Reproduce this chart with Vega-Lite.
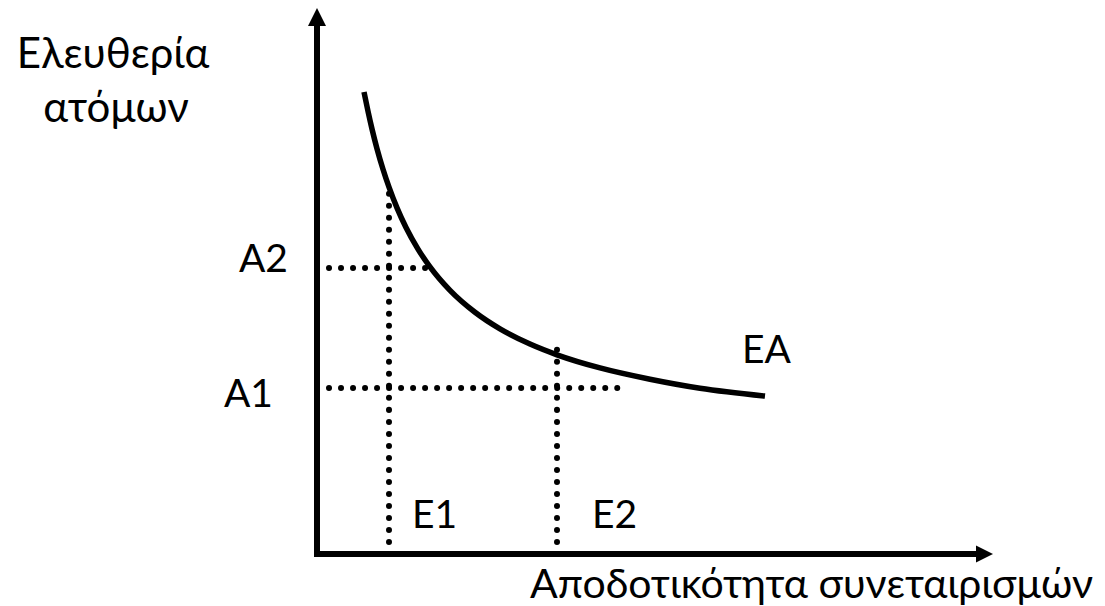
{
  "$schema": "https://vega.github.io/schema/vega-lite/v6.json",
  "width": 1105,
  "height": 606,
  "padding": 0,
  "autosize": {"type": "none"},
  "background": "white",
  "config": {"view": {"stroke": null}, "text": {"font": "Lato", "fontSize": 39, "color": "black"}},
  "datasets": {
    "curve": [
      {"x": 47, "y": 462}, {"x": 51, "y": 442.7}, {"x": 55, "y": 425}, {"x": 60, "y": 405.3},
      {"x": 66, "y": 384.7}, {"x": 72, "y": 366.8}, {"x": 80, "y": 346.1}, {"x": 89, "y": 326.5},
      {"x": 101, "y": 304.9}, {"x": 113, "y": 287.1}, {"x": 133, "y": 263.6}, {"x": 158, "y": 241.7},
      {"x": 183, "y": 225.1}, {"x": 213, "y": 209.9}, {"x": 240, "y": 199.2}, {"x": 283, "y": 186.1},
      {"x": 333, "y": 174.8}, {"x": 383, "y": 165.8}, {"x": 448, "y": 158}
    ],
    "axes": [
      {"id": "y", "x": 0, "y": 0, "x2": 0, "y2": 530},
      {"id": "x", "x": 0, "y": 0, "x2": 660, "y2": 0}
    ],
    "guides": [
      {"id": "E1", "x": 72, "y": 0, "x2": 72, "y2": 367},
      {"id": "E2", "x": 240, "y": 0, "x2": 240, "y2": 211},
      {"id": "A2", "x": 12, "y": 286, "x2": 111, "y2": 286},
      {"id": "A1", "x": 12, "y": 166, "x2": 309, "y2": 166}
    ],
    "arrowUp": [{"x": 0, "y": 537}],
    "arrowRight": [{"x": 667.5, "y": 0}],
    "labelsLeft": [
      {"label": "A2", "x": -29, "y": 282},
      {"label": "A1", "x": -44, "y": 147}
    ],
    "labelsRight": [
      {"label": "E1", "x": 95, "y": 26},
      {"label": "E2", "x": 275, "y": 26},
      {"label": "EA", "x": 425, "y": 191}
    ],
    "greekRight": [
      {"label": "Αποδοτικότητα συνεταιρισμών", "x": 213, "y": -44}
    ],
    "labelsCenter": [
      {"label": "Ελευθερία", "x": -204, "y": 486},
      {"label": "ατόμων", "x": -201, "y": 432}
    ]
  },
  "layer": [
    {
      "data": {"name": "guides"},
      "mark": {"type": "rule", "stroke": "black", "strokeWidth": 6, "strokeCap": "round", "strokeDash": [0.01, 12]},
      "encoding": {
        "x": {"field": "x", "type": "quantitative", "scale": {"domain": [-317, 788], "nice": false, "zero": false}, "axis": null},
        "y": {"field": "y", "type": "quantitative", "scale": {"domain": [-52, 554], "nice": false, "zero": false}, "axis": null},
        "x2": {"field": "x2"},
        "y2": {"field": "y2"}
      }
    },
    {
      "data": {"name": "axes"},
      "mark": {"type": "rule", "stroke": "black", "strokeWidth": 6, "strokeCap": "square"},
      "encoding": {
        "x": {"field": "x", "type": "quantitative"},
        "y": {"field": "y", "type": "quantitative"},
        "x2": {"field": "x2"},
        "y2": {"field": "y2"}
      }
    },
    {
      "data": {"name": "arrowUp"},
      "mark": {"type": "point", "shape": "M0,-1L1,1L-1,1Z", "size": 324, "filled": true, "fill": "black", "stroke": null, "opacity": 1},
      "encoding": {
        "x": {"field": "x", "type": "quantitative"},
        "y": {"field": "y", "type": "quantitative"}
      }
    },
    {
      "data": {"name": "arrowRight"},
      "mark": {"type": "point", "shape": "M1,0L-1,-1L-1,1Z", "size": 289, "filled": true, "fill": "black", "stroke": null, "opacity": 1},
      "encoding": {
        "x": {"field": "x", "type": "quantitative"},
        "y": {"field": "y", "type": "quantitative"}
      }
    },
    {
      "data": {"name": "curve"},
      "mark": {"type": "line", "stroke": "black", "strokeWidth": 5.5, "interpolate": "monotone", "strokeCap": "butt"},
      "encoding": {
        "x": {"field": "x", "type": "quantitative"},
        "y": {"field": "y", "type": "quantitative"}
      }
    },
    {
      "data": {"name": "labelsLeft"},
      "mark": {"type": "text", "align": "right", "baseline": "alphabetic"},
      "encoding": {
        "x": {"field": "x", "type": "quantitative"},
        "y": {"field": "y", "type": "quantitative"},
        "text": {"field": "label"}
      }
    },
    {
      "data": {"name": "labelsRight"},
      "mark": {"type": "text", "align": "left", "baseline": "alphabetic"},
      "encoding": {
        "x": {"field": "x", "type": "quantitative"},
        "y": {"field": "y", "type": "quantitative"},
        "text": {"field": "label"}
      }
    },
    {
      "data": {"name": "greekRight"},
      "mark": {"type": "text", "align": "left", "baseline": "alphabetic", "fontSize": 41},
      "encoding": {
        "x": {"field": "x", "type": "quantitative"},
        "y": {"field": "y", "type": "quantitative"},
        "text": {"field": "label"}
      }
    },
    {
      "data": {"name": "labelsCenter"},
      "mark": {"type": "text", "align": "center", "baseline": "alphabetic", "fontSize": 42},
      "encoding": {
        "x": {"field": "x", "type": "quantitative"},
        "y": {"field": "y", "type": "quantitative"},
        "text": {"field": "label"}
      }
    }
  ]
}
